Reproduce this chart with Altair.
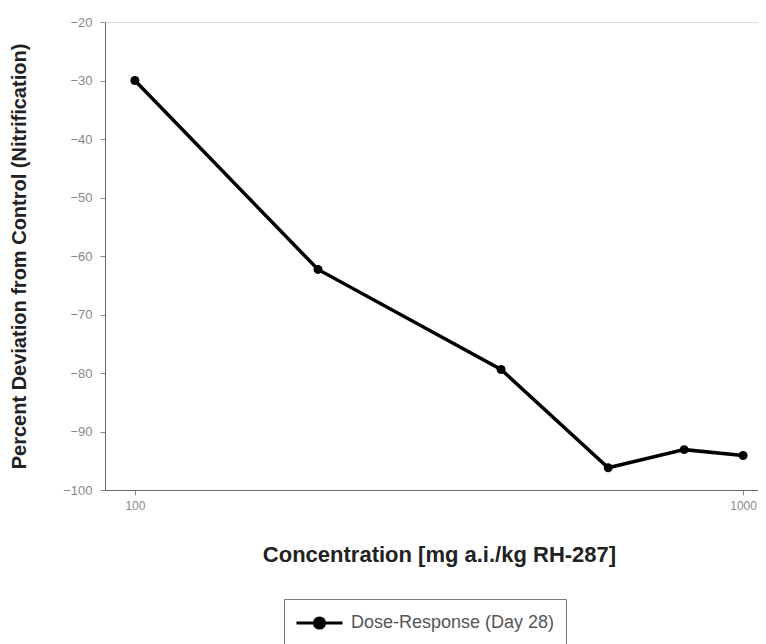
import altair as alt
import pandas as pd

conc = [100, 200, 400, 600, 800, 1000]
deviation = [-30, -62.3, -79.4, -96.2, -93.1, -94.1]
series = ["Dose-Response (Day 28)"] * len(conc)
x_ticks = [100, 1000]
y_ticks = [-100, -90, -80, -70, -60, -50, -40, -30, -20]

df = pd.DataFrame({"conc": conc, "dev": deviation, "series": series})

font = "Liberation Sans"

# legend glyph: a line with a dot in the middle (unit = sqrt(size)/2)
sym = "M -1 0 L 3 0 M 0.56 0 A 0.44 0.44 0 1 0 1.44 0 A 0.44 0.44 0 1 0 0.56 0 Z"

base = alt.Chart(df).encode(
    x=alt.X("conc:Q",
            scale=alt.Scale(type="log", domain=[89.3, 1058], nice=False),
            axis=alt.Axis(values=x_ticks, format="d", title="Concentration [mg a.i./kg RH-287]",
                          titleFontSize=22, titleFontWeight="bold", titleColor="#222",
                          titlePadding=33, titleX=334, labelPadding=5, labelFontSize=12,
                          labelColor="#888", tickColor="#888", domainColor="#666",
                          grid=False, tickSize=5)),
    y=alt.Y("dev:Q",
            scale=alt.Scale(domain=[-100, -20], nice=False),
            axis=alt.Axis(values=y_ticks, title="Percent Deviation from Control (Nitrification)",
                          titleFontSize=20, titleFontWeight="bold", titleColor="#222",
                          titlePadding=33, labelPadding=8, labelFontSize=13,
                          labelColor="#888", tickColor="#888", domainColor="#666",
                          grid=False, tickSize=5)),
)

line = base.mark_line(color="black", strokeWidth=3.5).encode(
    color=alt.Color("series:N",
                    scale=alt.Scale(range=["black"]),
                    legend=alt.Legend(title=None, orient="none", legendX=179, legendY=577,
                                      symbolType=sym, symbolSize=529, symbolStrokeWidth=3,
                                      symbolFillColor="black", symbolStrokeColor="black",
                                      labelFontSize=18, labelColor="#555", labelFont=font,
                                      labelLimit=400,
                                      padding=11, strokeColor="#777", fillColor="white",
                                      labelOffset=30))
)
pts = base.mark_point(filled=True, color="black", size=80, opacity=1)

chart = (line + pts).properties(
    width=653, height=468,
    padding={"left": 97, "top": 14, "right": 0, "bottom": 154},
    autosize=alt.AutoSizeParams(type="none"),
).configure_view(stroke="#666", strokeWidth=1.5).configure(font=font)

chart.save("out.html", embed_options={"renderer": "svg", "actions": False})
